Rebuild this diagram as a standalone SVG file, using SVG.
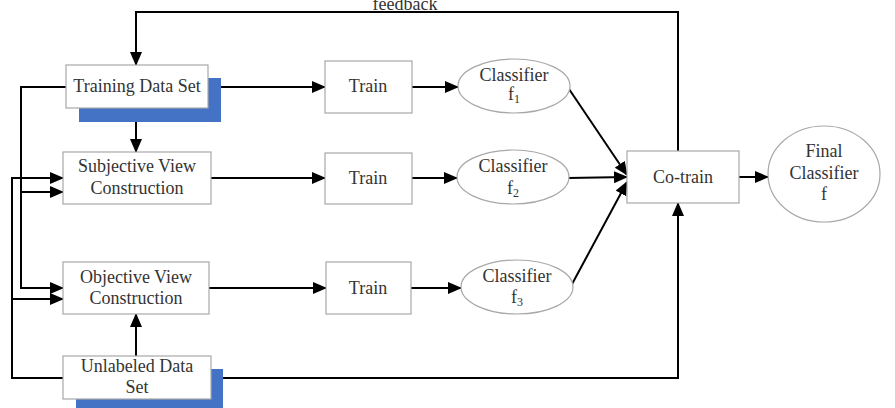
<svg xmlns="http://www.w3.org/2000/svg" width="895" height="408" viewBox="0 0 895 408">
<defs>
<marker id="ah" markerUnits="userSpaceOnUse" markerWidth="14" markerHeight="12" refX="13" refY="6" orient="auto"><path d="M0,0 L14,6 L0,12 Z" fill="#000"/></marker>
<style>
.box{fill:#fff;stroke:#a8a8a8;stroke-width:1.2}
.sh{fill:#4472c4}
.t{font-family:"Liberation Serif","Times New Roman",serif;font-size:18px;fill:#333;text-anchor:middle}
.s{font-size:12px}
.ln{fill:none;stroke:#000;stroke-width:2}
.ar{fill:none;stroke:#000;stroke-width:2;marker-end:url(#ah)}
</style>
</defs>
<rect width="895" height="408" fill="#fff"/>
<g id="connectors">
<path class="ar" d="M678,151 V12 H136 V65"/>
<path class="ar" d="M136,108 V152"/>
<path class="ar" d="M136,356 V314"/>
<path class="ar" d="M208,87 H325"/>
<path class="ar" d="M211,178 H325"/>
<path class="ar" d="M209,288 H326"/>
<path class="ar" d="M412,87 H458"/>
<path class="ar" d="M412,178 H457"/>
<path class="ar" d="M411,288 H461"/>
<path class="ar" d="M66,87 H21 V288 H63"/>
<path class="ar" d="M21,192 H63"/>
<path class="ar" d="M63,378 H12 V178 H63"/>
<path class="ar" d="M12,299 H63"/>
<path class="ar" d="M211,378 H678 V203"/>
<path class="ar" d="M569,89 L627,175"/>
<path class="ar" d="M568,178 L627,177"/>
<path class="ar" d="M571,286 L627,182"/>
<path class="ar" d="M739,177 H768"/>
</g>
<text class="t" x="405" y="10">feedback</text>
<g id="training">
<rect class="sh" x="79" y="78" width="142" height="44"/>
<rect class="box" x="66" y="65" width="142" height="43"/>
<text class="t" x="137" y="92">Training Data Set</text>
</g>
<g id="subjective">
<rect class="box" x="63" y="152" width="148" height="52"/>
<text class="t" x="137" y="172">Subjective View</text>
<text class="t" x="137" y="194">Construction</text>
</g>
<g id="objective">
<rect class="box" x="63" y="262" width="146" height="52"/>
<text class="t" x="136" y="283">Objective View</text>
<text class="t" x="136" y="304">Construction</text>
</g>
<g id="unlabeled">
<rect class="sh" x="76" y="369" width="147" height="45"/>
<rect class="box" x="63" y="356" width="148" height="43"/>
<text class="t" x="137" y="372">Unlabeled Data</text>
<text class="t" x="137" y="393">Set</text>
</g>
<g id="train1">
<rect class="box" x="325" y="61" width="87" height="52"/>
<text class="t" x="368" y="92">Train</text>
</g>
<g id="train2">
<rect class="box" x="325" y="153" width="87" height="51"/>
<text class="t" x="368" y="184">Train</text>
</g>
<g id="train3">
<rect class="box" x="326" y="262" width="85" height="52"/>
<text class="t" x="368" y="294">Train</text>
</g>
<g id="classifier1">
<ellipse class="box" cx="514" cy="86" rx="56" ry="27"/>
<text class="t" x="514" y="81">Classifier</text>
<text class="t" x="514" y="100">f<tspan class="s" dy="3">1</tspan></text>
</g>
<g id="classifier2">
<ellipse class="box" cx="513" cy="177" rx="56" ry="27"/>
<text class="t" x="513" y="172">Classifier</text>
<text class="t" x="513" y="194">f<tspan class="s" dy="3">2</tspan></text>
</g>
<g id="classifier3">
<ellipse class="box" cx="517" cy="287" rx="56" ry="27"/>
<text class="t" x="517" y="282">Classifier</text>
<text class="t" x="517" y="303">f<tspan class="s" dy="3">3</tspan></text>
</g>
<g id="cotrain">
<rect class="box" x="627" y="151" width="112" height="52"/>
<text class="t" x="683" y="183">Co-train</text>
</g>
<g id="final">
<ellipse class="box" cx="824" cy="174" rx="56" ry="48"/>
<text class="t" x="824" y="157">Final</text>
<text class="t" x="824" y="179">Classifier</text>
<text class="t" x="824" y="200">f</text>
</g>
</svg>
